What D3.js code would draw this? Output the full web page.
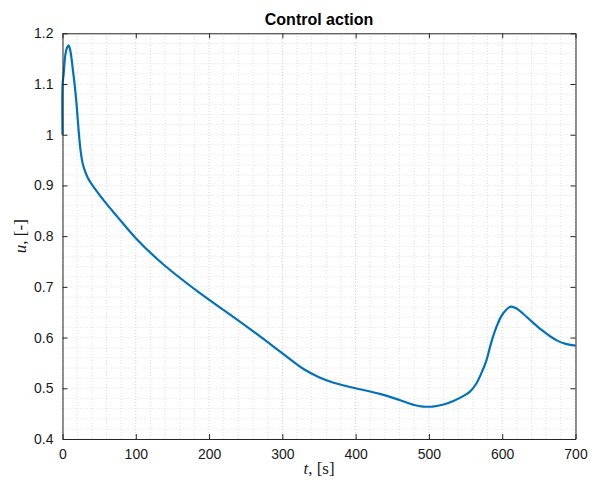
<!DOCTYPE html>
<html><head><meta charset="utf-8">
<script src="https://cdn.jsdelivr.net/npm/d3@7"></script>
<style>body{margin:0;background:#fff}</style>
</head><body>
<script>
const time = [0, 0.15, 1.6, 3.8, 6, 8.5, 11, 13.9, 16.5, 18.9, 20.8, 22.5, 24.8, 27, 29.3, 34.8, 43.9, 57.6, 75, 100, 137, 188, 233, 270, 301, 330, 350, 370, 400, 433, 460, 480, 492, 505, 520, 535, 546, 555.6, 565, 571, 577.8, 585, 591.4, 600, 611.4, 620, 628.6, 640, 653.7, 665, 675, 688, 700];
const u =    [1.0, 1.10, 1.12, 1.157, 1.171, 1.176, 1.163, 1.131, 1.10, 1.065, 1.03, 1.0, 0.967, 0.947, 0.934, 0.914, 0.894, 0.868, 0.838, 0.796, 0.745, 0.687, 0.641, 0.602, 0.568, 0.537, 0.522, 0.511, 0.500, 0.489, 0.477, 0.467, 0.464, 0.464, 0.468, 0.476, 0.484, 0.493, 0.510, 0.528, 0.552, 0.590, 0.618, 0.645, 0.661, 0.657, 0.647, 0.632, 0.615, 0.603, 0.594, 0.587, 0.584];
const xTicks = [0, 100, 200, 300, 400, 500, 600, 700];
const yTicks = [0.4, 0.5, 0.6, 0.7, 0.8, 0.9, 1, 1.1, 1.2];
const titleText = "Control action";

const W = 590, H = 481;
const m = {left: 62.5, right: 14.5, top: 33.3, bottom: 42};
const svg = d3.select("body").append("svg").attr("width", W).attr("height", H);
const x = d3.scaleLinear().domain([0, 700]).range([m.left, W - m.right]);
const y = d3.scaleLinear().domain([0.4, 1.2]).range([H - m.bottom, m.top]);

const g = svg.append("g");
const xMinor = d3.range(0, 701, 20);
const yMinor = d3.range(0, 41).map(i => 0.4 + i * 0.02);
g.selectAll(".xm").data(xMinor).enter().append("line")
  .attr("x1", d => x(d)).attr("x2", d => x(d)).attr("y1", y(0.4)).attr("y2", y(1.2))
  .attr("stroke", d => xTicks.includes(d) ? "#d0d0d0" : "#e0e0e0").attr("stroke-width", 1).attr("stroke-dasharray", "1,2");
g.selectAll(".ym").data(yMinor).enter().append("line")
  .attr("y1", d => y(d)).attr("y2", d => y(d)).attr("x1", x(0)).attr("x2", x(700))
  .attr("stroke", "#e0e0e0").attr("stroke-width", 1).attr("stroke-dasharray", "1,2");

const line = d3.line().x((d, i) => x(time[i])).y(d => y(d)).curve(d3.curveCatmullRom.alpha(0.5));
svg.append("path").datum(u).attr("d", line).attr("fill", "none")
  .attr("stroke", "#0072BD").attr("stroke-width", 2.2).attr("stroke-linejoin", "round");

const ax = "#262626";
const tickLen = 5;
const xb = svg.append("g").attr("transform", `translate(0,${y(0.4)})`)
  .call(d3.axisBottom(x).tickValues(xTicks).tickSizeInner(-tickLen).tickSizeOuter(0).tickPadding(10).tickFormat(d3.format("d")));
const xt = svg.append("g").attr("transform", `translate(0,${y(1.2)})`)
  .call(d3.axisTop(x).tickValues(xTicks).tickSizeInner(-tickLen).tickSizeOuter(0).tickFormat(""));
const yl = svg.append("g").attr("transform", `translate(${x(0)},0)`)
  .call(d3.axisLeft(y).tickValues(yTicks).tickSizeInner(-tickLen).tickSizeOuter(0).tickPadding(9).tickFormat(d => d3.format("")(+d.toFixed(1))));
const yr = svg.append("g").attr("transform", `translate(${x(700)},0)`)
  .call(d3.axisRight(y).tickValues(yTicks).tickSizeInner(-tickLen).tickSizeOuter(0).tickFormat(""));
[xb, xt, yl, yr].forEach(a => {
  a.select(".domain").attr("stroke", ax).attr("stroke-width", 1);
  a.selectAll(".tick line").attr("stroke", ax);
  a.selectAll("text").attr("fill", "#1a1a1a").style("font-family", "Liberation Sans, Arial, sans-serif").style("font-size", "14px");
});

svg.append("text").attr("x", (x(0) + x(700)) / 2).attr("y", 25).attr("text-anchor", "middle")
  .style("font-family", "Liberation Sans, Arial, sans-serif").style("font-size", "16px").style("font-weight", "bold")
  .attr("fill", "#000").text(titleText);

const xl = svg.append("text").attr("x", (x(0) + x(700)) / 2).attr("y", 474).attr("text-anchor", "middle")
  .style("font-family", "Liberation Serif, serif").style("font-size", "17px").attr("fill", "#1a1a1a");
xl.append("tspan").style("font-style", "italic").text("t");
xl.append("tspan").text(", [s]");

const ylab = svg.append("text").attr("transform", `translate(26,${(y(0.4) + y(1.2)) / 2}) rotate(-90)`).attr("text-anchor", "middle")
  .style("font-family", "Liberation Serif, serif").style("font-size", "17px").attr("fill", "#1a1a1a");
ylab.append("tspan").style("font-style", "italic").text("u");
ylab.append("tspan").text(", [-]");
</script>
</body></html>
